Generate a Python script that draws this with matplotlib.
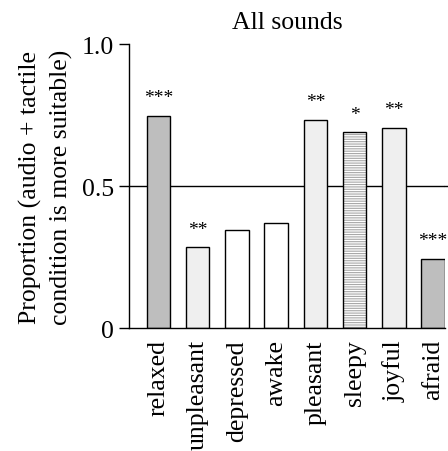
import matplotlib
matplotlib.use("Agg")
import matplotlib.pyplot as plt

categories = ["relaxed", "unpleasant", "depressed", "awake", "pleasant", "sleepy", "joyful", "afraid"]
values = [0.747, 0.284, 0.347, 0.369, 0.733, 0.689, 0.705, 0.243]
stars = ["***", "**", "", "", "**", "*", "**", "***"]
fills = ["#bebebe", "#efefef", "#ffffff", "#ffffff", "#efefef", "hatch", "#efefef", "#bebebe"]
yticks = [0, 0.5, 1.0]
yticklabels = ["0", "0.5", "1.0"]

plt.rcParams["font.family"] = ["Liberation Serif", "DejaVu Serif"]
plt.rcParams["hatch.linewidth"] = 0.8

fig = plt.figure(figsize=(4.48, 4.52), dpi=100)
ax = fig.add_axes([0.288, 0.272, 0.705, 0.628])

x = list(range(len(categories)))
ax.axhline(0.5, color="black", lw=1.0, zorder=1)
for xi, v, f in zip(x, values, fills):
    if f == "hatch":
        plt.rcParams["hatch.color"] = "#a8a8a8"
        ax.bar(xi, v, width=0.6, color="white", edgecolor="#a8a8a8", hatch="-------", lw=0, zorder=2)
        ax.bar(xi, v, width=0.6, fill=False, edgecolor="black", lw=1.0, zorder=3)
    else:
        ax.bar(xi, v, width=0.6, color=f, edgecolor="black", lw=1.0, zorder=2)

for xi, v, s in zip(x, values, stars):
    if s:
        ax.text(xi, v + 0.064, s, ha="center", va="center", fontsize=14)

ax.set_xlim(-0.75, 7.3)
ax.set_ylim(0, 1.0)
ax.set_yticks(yticks)
ax.set_yticklabels(yticklabels, fontsize=18.5)
ax.set_xticks(x)
ax.set_xticklabels(categories, rotation=90, fontsize=18.5)
ax.tick_params(axis="x", length=0, pad=8)
ax.tick_params(axis="y", length=7, width=1, direction="out", pad=4)
for s in ["top", "right"]:
    ax.spines[s].set_visible(False)
ax.spines["left"].set_linewidth(1.0)
ax.spines["bottom"].set_linewidth(1.0)
ax.axhline(0.5, xmin=1.0, xmax=1.02, color="black", lw=1.0, clip_on=False)
ax.set_ylabel("Proportion (audio + tactile\ncondition is more suitable)", fontsize=18.5, linespacing=1.45, labelpad=6)
ax.set_title("All sounds", fontsize=18.5, pad=12)

fig.savefig("out.png", dpi=100)
